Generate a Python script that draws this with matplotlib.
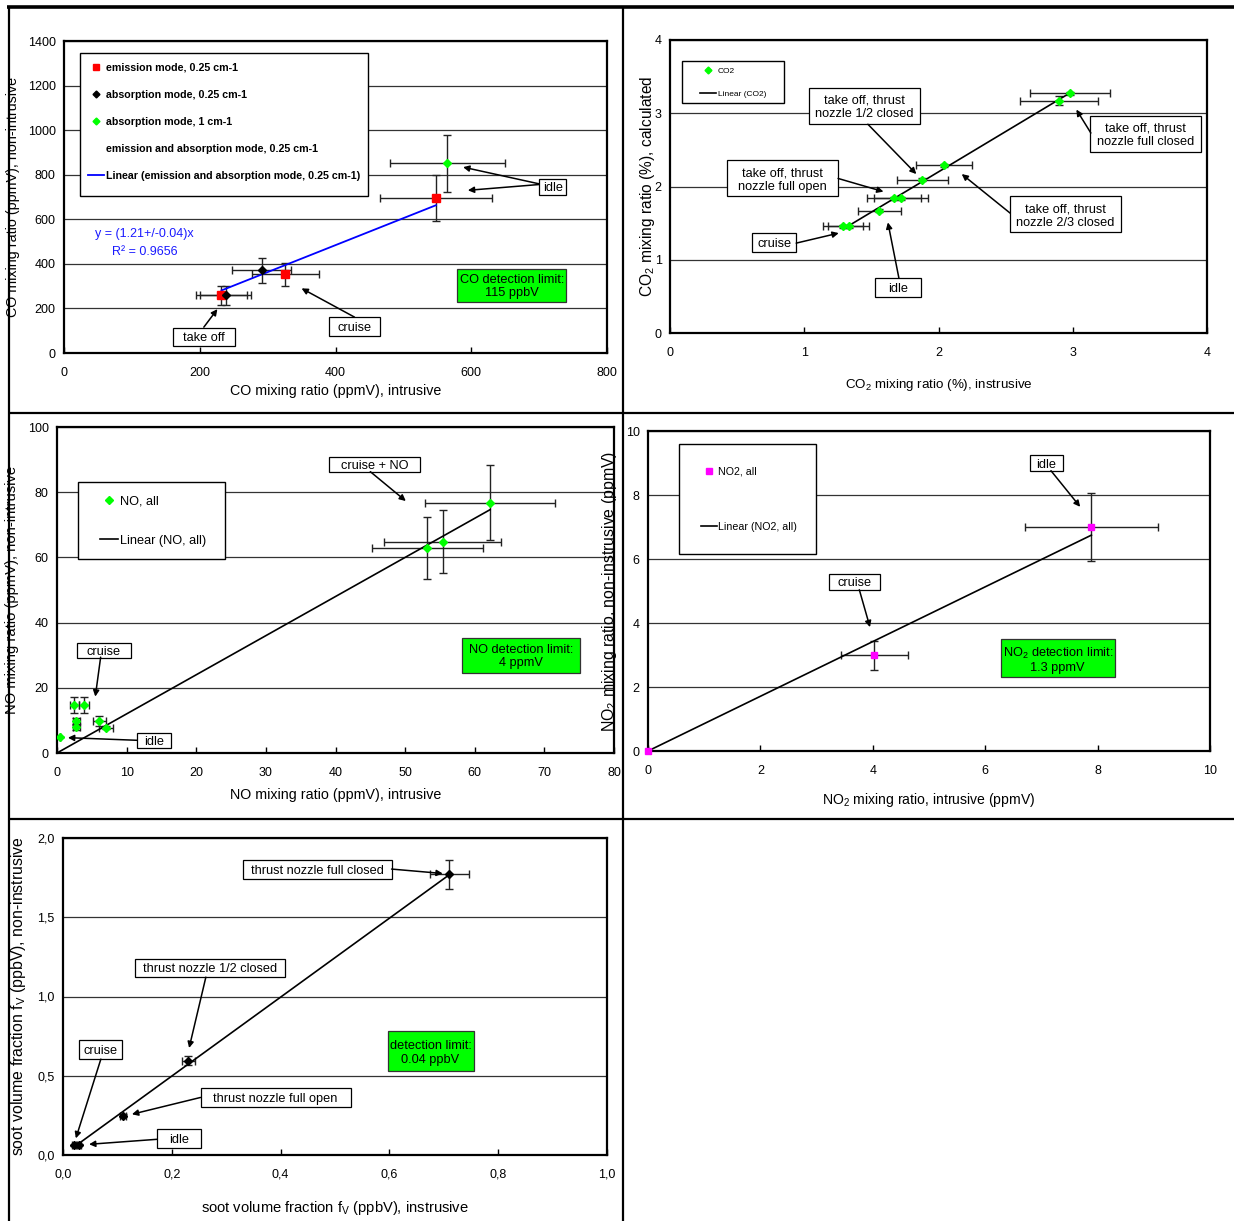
import matplotlib
matplotlib.use('Agg')
import matplotlib.pyplot as plt
import matplotlib.transforms as mtransforms
from matplotlib.lines import Line2D
from matplotlib.patches import Rectangle
from matplotlib.ticker import FuncFormatter

plt.rcParams['font.family'] = ['Liberation Sans', 'DejaVu Sans']
plt.rcParams['mathtext.fontset'] = 'custom'
plt.rcParams['mathtext.rm'] = 'Liberation Sans'
plt.rcParams['mathtext.it'] = 'Liberation Sans:italic'

# ---------------- data ----------------
# CO panel
co_em_x = [232, 326, 548]
co_em_y = [259, 353, 695]
co_em_xerr = [38, 49, 82]
co_em_yerr = [43, 53, 103]
co_ab_x = [238, 291]
co_ab_y = [259, 372]
co_ab_xerr = [38, 44]
co_ab_yerr = [43, 56]
co_ab1_x = [565]
co_ab1_y = [852]
co_ab1_xerr = [85]
co_ab1_yerr = [128]
co_slope = 1.21
co_fit_x = [232, 548]
co_xticks = [0, 200, 400, 600, 800]
co_yticks = [0, 200, 400, 600, 800, 1000, 1200, 1400]

# CO2 panel
co2_x = [1.29, 1.33, 1.56, 1.67, 1.72, 1.88, 2.04, 2.90, 2.98]
co2_y = [1.455, 1.46, 1.67, 1.84, 1.84, 2.09, 2.29, 3.17, 3.27]
co2_xerr = [0.15, 0.15, 0.16, 0.20, 0.20, 0.19, 0.21, 0.29, 0.30]
co2_yerr = [0.02, 0.02, 0.02, 0.02, 0.02, 0.02, 0.02, 0.06, 0.02]
co2_slope = 1.10
co2_fit_x = [1.29, 2.98]
co2_ticks = [0, 1, 2, 3, 4]

# NO panel
no_x = [0.4, 2.5, 3.9, 2.8, 2.8, 6.1, 7.1, 53.2, 55.4, 62.2]
no_y = [4.9, 14.8, 14.8, 9.7, 8.0, 9.7, 7.8, 62.9, 64.8, 76.7]
no_xerr = [0.0, 0.7, 0.7, 0.5, 0.5, 1.0, 1.0, 8.0, 8.4, 9.3]
no_yerr = [0.0, 2.4, 2.4, 1.0, 1.0, 1.5, 0.5, 9.4, 9.7, 11.5]
no_slope = 1.20
no_fit_x = [0, 62.2]
no_xticks = [0, 10, 20, 30, 40, 50, 60, 70, 80]
no_yticks = [0, 20, 40, 60, 80, 100]

# NO2 panel
no2_x = [0.0, 4.03, 7.89]
no2_y = [0.0, 2.99, 7.0]
no2_xerr = [0.0, 0.6, 1.18]
no2_yerr = [0.0, 0.45, 1.05]
no2_slope = 0.855
no2_fit_x = [0, 7.89]
no2_ticks = [0, 2, 4, 6, 8, 10]

# soot panel
soot_x = [0.020, 0.029, 0.110, 0.230, 0.710]
soot_y = [0.061, 0.065, 0.247, 0.595, 1.77]
soot_xerr = [0.004, 0.004, 0.006, 0.012, 0.036]
soot_yerr = [0.005, 0.005, 0.010, 0.027, 0.09]
soot_slope = 2.49
soot_fit_x = [0.02, 0.71]
soot_xticks = [0.0, 0.2, 0.4, 0.6, 0.8, 1.0]
soot_yticks = [0.0, 0.5, 1.0, 1.5, 2.0]

# ---------------- figure ----------------
W, H = 1234, 1221
fig = plt.figure(figsize=(W / 100, H / 100), dpi=100)

def fx(px):
    return px / W

def fy(py):
    return 1 - py / H

GREEN = '#00ff00'

def make_ax(l, t, r, b, xlim, ylim, xticks, yticks):
    ax = fig.add_axes([fx(l), fy(b), (r - l) / W, (b - t) / H])
    ax.set_xlim(*xlim)
    ax.set_ylim(*ylim)
    ax.set_xticks(xticks)
    ax.set_yticks(yticks)
    for s in ax.spines.values():
        s.set_linewidth(1.6)
        s.set_color('black')
    ax.yaxis.grid(True, color='#333333', lw=0.9)
    ax.set_axisbelow(True)
    ax.tick_params(axis='x', direction='in', length=4, width=1, pad=10, labelsize=9)
    ax.tick_params(axis='y', direction='in', length=0, pad=6, labelsize=9)
    ax._px = (l, t, r, b)
    return ax

def set_labels(ax, xl, yl, xlab_top_px, ylab_right_px, xfs, yfs):
    l, t, r, b = ax._px
    ax.set_xlabel(xl, fontsize=xfs)
    ax.set_ylabel(yl, fontsize=yfs)
    ax.xaxis.set_label_coords(0.5, (b - xlab_top_px) / (b - t))
    ax.yaxis.set_label_coords((ylab_right_px - l) / (r - l), 0.5)

def tbox(ax, x, y, s, w, h, fs=9.2, fc='white', ec='black'):
    X, Y = ax.transData.transform((x, y))
    ax.add_patch(Rectangle(((X - w / 2) / W, (Y - h / 2) / H), w / W, h / H,
                           transform=fig.transFigure, fc=fc, ec=ec, lw=0.9,
                           zorder=6, clip_on=False))
    tr = mtransforms.offset_copy(ax.transData, fig=fig, x=0, y=-1.5, units='dots')
    ax.text(x, y, s, ha='center', va='center', fontsize=fs, zorder=7,
            linespacing=1.15, transform=tr)

def arrow(ax, tail, head):
    ax.annotate('', xy=head, xytext=tail, zorder=7,
                arrowprops=dict(arrowstyle='-|>', color='black', lw=1.1,
                                mutation_scale=9, shrinkA=0, shrinkB=0))

def legend_box(ax, l, t, r, b, handles, labels, hx, first_cy, pitch, fs,
               hlen_px, tpad_px, weight='normal', family=None):
    ax.add_patch(Rectangle((fx(l), fy(b)), (r - l) / W, (b - t) / H,
                           transform=fig.transFigure, fc='white', ec='black',
                           lw=1.0, zorder=4, clip_on=False))
    fs_px = fs * 100 / 72.0
    th = fs_px * 1.17
    prop = {'size': fs, 'weight': weight}
    if family:
        prop['family'] = family
    leg = ax.legend(handles, labels, loc='upper left',
                    bbox_to_anchor=(fx(hx), fy(first_cy - th / 2)),
                    bbox_transform=fig.transFigure, frameon=False,
                    borderpad=0, borderaxespad=0,
                    labelspacing=(pitch - th) / fs_px,
                    handlelength=hlen_px / fs_px,
                    handletextpad=tpad_px / fs_px, prop=prop)
    leg.set_zorder(5)
    return leg

eb_kw = dict(fmt='none', ecolor='#222222', elinewidth=1.0, capsize=3, capthick=1.0, zorder=2)

# ---------------- CO panel ----------------
ax1 = make_ax(64, 41, 607, 353, (0, 800), (0, 1400), co_xticks, co_yticks)
ax1.errorbar(co_em_x, co_em_y, xerr=co_em_xerr, yerr=co_em_yerr, **eb_kw)
ax1.errorbar(co_ab_x, co_ab_y, xerr=co_ab_xerr, yerr=co_ab_yerr, **eb_kw)
ax1.errorbar(co_ab1_x, co_ab1_y, xerr=co_ab1_xerr, yerr=co_ab1_yerr, **eb_kw)
ax1.plot(co_fit_x, [co_slope * v for v in co_fit_x], color='blue', lw=1.3, zorder=3)
ax1.plot(co_em_x, co_em_y, 's', color='red', ms=6, zorder=4, ls='none')
ax1.plot(co_ab_x, co_ab_y, 'D', color='black', ms=4, zorder=4, ls='none')
ax1.plot(co_ab1_x, co_ab1_y, 'D', color=GREEN, ms=4, zorder=4, ls='none')
set_labels(ax1, 'CO mixing ratio (ppmV), intrusive',
           'CO mixing ratio (ppmV), non-intrusive', 384, 20, 10.3, 10.3)
legend_box(ax1, 80, 53, 368, 196,
           [Line2D([], [], marker='s', color='red', ls='none', ms=5),
            Line2D([], [], marker='D', color='black', ls='none', ms=3.5),
            Line2D([], [], marker='D', color=GREEN, ls='none', ms=3.5),
            Line2D([], [], ls='none'),
            Line2D([], [], color='blue', lw=1.3)],
           ['emission mode, 0.25 cm-1', 'absorption mode, 0.25 cm-1',
            'absorption mode, 1 cm-1', 'emission and absorption mode, 0.25 cm-1',
            'Linear (emission and absorption mode, 0.25 cm-1)'],
           88, 69, 29.6, 7.7, 16, 2, weight='bold')
ax1.text(45.6, 533, 'y = (1.21+/-0.04)x', color='#1a1aff', fontsize=9, ha='left', va='center')
ax1.text(71, 454, 'R² = 0.9656', color='#1a1aff', fontsize=9, ha='left', va='center')
tbox(ax1, 660, 305, 'CO detection limit:\n115 ppbV', 109, 33, fc=GREEN, ec='#333333')
tbox(ax1, 720, 747, 'idle', 27, 16)
arrow(ax1, (700, 759), (588, 834))
arrow(ax1, (700, 756), (595, 730))
tbox(ax1, 206, 74, 'take off', 62, 18)
arrow(ax1, (206, 116), (226, 197))
tbox(ax1, 428, 118, 'cruise', 51, 19)
arrow(ax1, (428, 161), (350, 290))

# ---------------- CO2 panel ----------------
ax2 = make_ax(670, 40, 1207, 333, (0, 4), (0, 4), co2_ticks, co2_ticks)
ax2.errorbar(co2_x, co2_y, xerr=co2_xerr, yerr=co2_yerr, **eb_kw)
ax2.plot(co2_fit_x, [co2_slope * v for v in co2_fit_x], color='black', lw=1.2, zorder=3)
ax2.plot(co2_x, co2_y, 'D', color=GREEN, ms=4, zorder=4, ls='none')
set_labels(ax2, r'CO$_2$ mixing ratio (%), instrusive',
           r'CO$_2$ mixing ratio (%), calculated', 377, 657, 9.6, 11.2)
legend_box(ax2, 682, 61, 784, 103,
           [Line2D([], [], marker='D', color=GREEN, ls='none', ms=3.5),
            Line2D([], [], color='black', lw=1.2)],
           ['CO2', 'Linear (CO2)'], 700, 72, 24.5, 6, 16, 2,
           family=['Liberation Sans Narrow', 'Liberation Sans'])
tbox(ax2, 1.447, 3.10, 'take off, thrust\nnozzle 1/2 closed', 111, 36)
arrow(ax2, (1.474, 2.85), (1.835, 2.17))
tbox(ax2, 3.54, 2.72, 'take off, thrust\nnozzle full closed', 111, 36)
arrow(ax2, (3.135, 2.73), (3.027, 3.05))
tbox(ax2, 0.84, 2.11, 'take off, thrust\nnozzle full open', 111, 36)
arrow(ax2, (1.252, 2.11), (1.59, 1.93))
tbox(ax2, 2.946, 1.62, 'take off, thrust\nnozzle 2/3 closed', 111, 36)
arrow(ax2, (2.534, 1.636), (2.173, 2.17))
tbox(ax2, 0.778, 1.23, 'cruise', 44, 19)
arrow(ax2, (0.94, 1.227), (1.257, 1.364))
tbox(ax2, 1.70, 0.62, 'idle', 46, 19)
arrow(ax2, (1.705, 0.75), (1.623, 1.51))

# ---------------- NO panel ----------------
ax3 = make_ax(57, 427, 614, 753, (0, 80), (0, 100), no_xticks, no_yticks)
ax3.errorbar(no_x, no_y, xerr=no_xerr, yerr=no_yerr, **eb_kw)
ax3.plot(no_fit_x, [no_slope * v for v in no_fit_x], color='black', lw=1.2, zorder=3)
ax3.plot(no_x, no_y, 'D', color=GREEN, ms=4.5, zorder=4, ls='none')
set_labels(ax3, 'NO mixing ratio (ppmV), intrusive',
           'NO mixing ratio (ppmV), non-intrusive', 788, 19, 10.3, 10.6)
legend_box(ax3, 78, 482, 225, 559,
           [Line2D([], [], marker='D', color=GREEN, ls='none', ms=4),
            Line2D([], [], color='black', lw=1.2)],
           ['NO, all', 'Linear (NO, all)'], 100, 503, 42, 9.2, 18, 1.5)
tbox(ax3, 45.6, 88.5, 'cruise + NO', 91, 15)
arrow(ax3, (45.0, 86.3), (50.1, 77.3))
tbox(ax3, 6.7, 31.5, 'cruise', 54, 15)
arrow(ax3, (6.27, 29.4), (5.5, 17.3))
tbox(ax3, 13.9, 3.7, 'idle', 34, 15)
arrow(ax3, (11.5, 3.9), (1.57, 4.7))
tbox(ax3, 66.7, 30, 'NO detection limit:\n4 ppmV', 118, 35, fc=GREEN, ec='#333333')

# ---------------- NO2 panel ----------------
ax4 = make_ax(648, 431, 1210, 751, (0, 10), (0, 10), no2_ticks, no2_ticks)
ax4.errorbar(no2_x, no2_y, xerr=no2_xerr, yerr=no2_yerr, **eb_kw)
ax4.plot(no2_fit_x, [no2_slope * v for v in no2_fit_x], color='black', lw=1.2, zorder=3)
ax4.plot(no2_x, no2_y, 's', color='magenta', ms=5, zorder=4, ls='none', clip_on=False)
set_labels(ax4, r'NO$_2$ mixing ratio, intrusive (ppmV)',
           r'NO$_2$ mixing ratio, non-instrusive (ppmV)', 791, 619, 10.1, 11.4)
legend_box(ax4, 679, 444, 816, 554,
           [Line2D([], [], marker='s', color='magenta', ls='none', ms=4.5),
            Line2D([], [], color='black', lw=1.2)],
           ['NO2, all', 'Linear (NO2, all)'], 701, 473, 58, 7.7, 16, 1,
           family=['Liberation Sans Narrow', 'Liberation Sans'])
tbox(ax4, 7.09, 9.0, 'idle', 33, 16)
arrow(ax4, (7.17, 8.76), (7.69, 7.63))
tbox(ax4, 3.68, 5.29, 'cruise', 51, 16)
arrow(ax4, (3.76, 5.04), (3.95, 3.87))
tbox(ax4, 7.29, 2.9, 'NO$_2$ detection limit:\n1.3 ppmV', 114, 38, fc=GREEN, ec='#333333')

# ---------------- soot panel ----------------
ax5 = make_ax(63, 838, 607, 1155, (0, 1.0), (0, 2.0), soot_xticks, soot_yticks)
comma = FuncFormatter(lambda v, p: ('%.1f' % v).replace('.', ','))
ax5.xaxis.set_major_formatter(comma)
ax5.yaxis.set_major_formatter(comma)
ax5.errorbar(soot_x, soot_y, xerr=soot_xerr, yerr=soot_yerr, **eb_kw)
ax5.plot(soot_fit_x, [soot_slope * v for v in soot_fit_x], color='black', lw=1.2, zorder=3)
ax5.plot(soot_x, soot_y, 'D', color='black', ms=4, zorder=4, ls='none')
set_labels(ax5, r'soot volume fraction f$_\mathrm{V}$ (ppbV), instrusive',
           r'soot volume fraction f$_\mathrm{V}$ (ppbV), non-instrusive', 1199, 28, 10.6, 11.4)
tbox(ax5, 0.467, 1.80, 'thrust nozzle full closed', 149, 19)
arrow(ax5, (0.604, 1.804), (0.698, 1.776))
tbox(ax5, 0.2705, 1.18, 'thrust nozzle 1/2 closed', 150, 18)
arrow(ax5, (0.2626, 1.122), (0.2318, 0.675))
tbox(ax5, 0.0696, 0.667, 'cruise', 43, 19)
arrow(ax5, (0.0696, 0.605), (0.0236, 0.105))
tbox(ax5, 0.3907, 0.365, 'thrust nozzle full open', 150, 19)
arrow(ax5, (0.2528, 0.363), (0.1267, 0.257))
tbox(ax5, 0.2127, 0.107, 'idle', 44, 19)
arrow(ax5, (0.1727, 0.099), (0.0479, 0.0675))
tbox(ax5, 0.6756, 0.654, 'detection limit:\n0.04 ppbV', 86, 40, fc=GREEN, ec='#333333')

# ---------------- table frame ----------------
def fline(x0, y0, x1, y1, lw):
    fig.add_artist(Line2D([fx(x0), fx(x1)], [fy(y0), fy(y1)], transform=fig.transFigure,
                          color='black', lw=lw, solid_capstyle='butt'))

fline(7, 6.5, 1234, 6.5, 2.6)
fline(9, 6, 9, 1221, 1.6)
fline(623, 6, 623, 1221, 1.6)
fline(9, 413, 1234, 413, 1.6)
fline(9, 819, 1234, 819, 1.6)

fig.savefig('out.png', dpi=100)
